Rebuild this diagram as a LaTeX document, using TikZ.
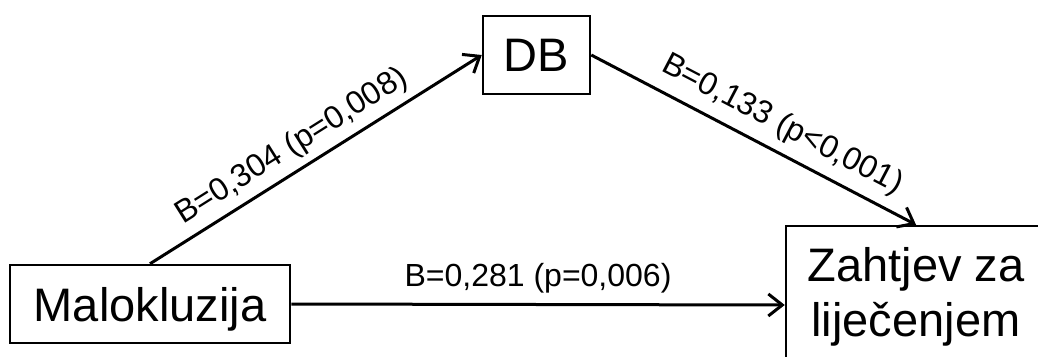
\documentclass[tikz,border=0pt]{standalone}
\usepackage{fontspec}
\setmainfont{Liberation Sans}
\usetikzlibrary{arrows.meta}
\begin{document}
\begin{tikzpicture}[x=1pt,y=-1pt,
  box/.style={draw=black, line width=2.5pt, inner sep=0pt, fill=white},
  bigtext/.style={font=\fontsize{47}{55}\selectfont},
  path/.style={draw=black, line width=3pt, -{Straight Barb[length=14pt,width=22pt]}},
  coef/.style={font=\fontsize{32}{36}\selectfont, inner sep=3pt, sloped}]
  \useasboundingbox[fill=white] (0,0) rectangle (1038,356);

  % variables
  \node[box, bigtext, minimum width=280pt, minimum height=78pt, text depth=0pt]
    (mal) at (150,304) {Malokluzija};
  \node[box, bigtext, minimum width=107pt, minimum height=78pt]
    (db) at (536.5,55) {DB};
  \node[box, minimum width=260pt, minimum height=158pt] (zah) at (916,305) {};
  \node[bigtext, align=center, inner sep=0pt] (zahtxt) at (916,297)
    {Zahtjev za\\liječenjem};

  % paths with coefficients
  \draw[path] (mal.north) -- node[coef, above=4pt, pos=0.465] (lab1) {B=0,304 (p=0,008)} (db.west);
  \draw[path] (db.east) -- node[coef, above=7pt, pos=0.55] (lab2) {B=0,133 (p<0,001)} (zah.north);
  \draw[path] (mal.east) -- node[coef, above=7pt, pos=0.5] (lab3) {B=0,281 (p=0,006)} (zah.west);
\end{tikzpicture}
\end{document}
